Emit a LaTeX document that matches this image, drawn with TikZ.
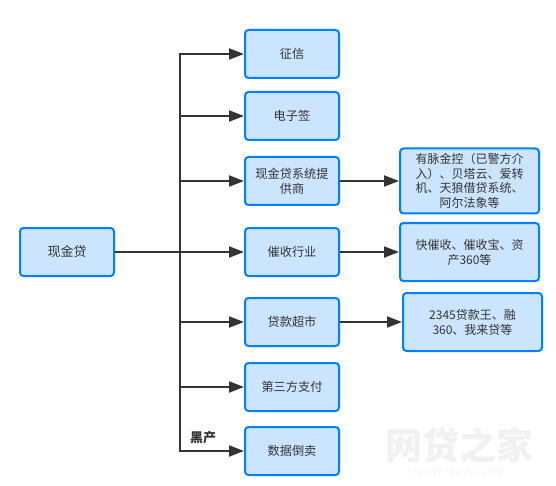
\documentclass[tikz,border=0pt]{standalone}
\usepackage{fontspec}
\setmainfont{Noto Sans CJK SC}
\usetikzlibrary{arrows.meta,positioning}
\definecolor{boxfill}{HTML}{CCE5FF}
\definecolor{boxline}{HTML}{007FFF}
\definecolor{linecol}{HTML}{333333}
\definecolor{markcol}{HTML}{F1F1F1}

\begin{document}
\begin{tikzpicture}[
x=1pt, y=-1pt,
logicbox/.style={draw=boxline, fill=boxfill, line width=2pt, rounded corners=3.5pt, align=center, text=linecol, font=\fontsize{12.2}{15}\selectfont, minimum width=94pt, minimum height=48pt, inner sep=0pt},
notebox/.style={logicbox, font=\fontsize{12}{15}\selectfont, minimum width=139pt, text width=135pt},
arrow/.style={-{Triangle[length=15pt, width=11pt]}, line width=2pt, draw=linecol}
]
\useasboundingbox (0,0) rectangle (556,486);
\node[logicbox, font=\fontsize{13}{15}\selectfont] (root) at (67,252) {现金贷};
\node[logicbox] (v1) at (292,54) {征信};
\node[logicbox, below=12pt of v1] (v2) {电子签};
\node[logicbox, below=15pt of v2] (v3) {现金贷系统提\\供商};
\node[logicbox, below=21pt of v3] (v4) {催收行业};
\node[logicbox, below=20pt of v4] (v5) {贷款超市};
\node[logicbox, below=15pt of v5] (v6) {第三方支付};
\node[logicbox, below=14pt of v6] (v7) {数据倒卖};
\node[notebox, minimum height=65pt, font=\fontsize{12}{14.5}\selectfont] (n3) at (469.5,181) {有脉金控（已警方介\\入）、贝塔云、爱转\\机、天狼借贷系统、\\阿尔法象等};
\node[notebox, minimum height=58pt] (n4) at (469.5,252) {快催收、催收宝、资\\产360等};
\node[notebox, minimum height=58pt] (n5) at (472.5,322) {2345贷款王、融\\360、我来贷等};
\coordinate (trunk) at (180,252);
\node[font=\fontsize{13}{14}\selectfont\bfseries, text=linecol, inner sep=0pt] (blackmark) at (203,438) {黑产};
\node[font=\fontsize{37}{40}\selectfont\bfseries, text=markcol, inner sep=0pt] (wmark) at (459,445) {网贷之家};
\node[font=\fontsize{9}{10}\selectfont, text=markcol, inner sep=0pt] (wsite) at (459,472) {W\,W\,W\,.\,W\,D\,Z\,J\,.\,C\,O\,M};

\draw[arrow] (root) -- (trunk) |- (v1);
\draw[arrow] (trunk) |- (v2);
\draw[arrow] (trunk) |- (v3);
\draw[arrow] (root) -- (v4);
\draw[arrow] (trunk) |- (v5);
\draw[arrow] (trunk) |- (v6);
\draw[arrow] (trunk) |- (v7);
\draw[arrow] (v3) -- (n3);
\draw[arrow] (v4) -- (n4);
\draw[arrow] (v5) -- (n5);
\end{tikzpicture}
\end{document}
